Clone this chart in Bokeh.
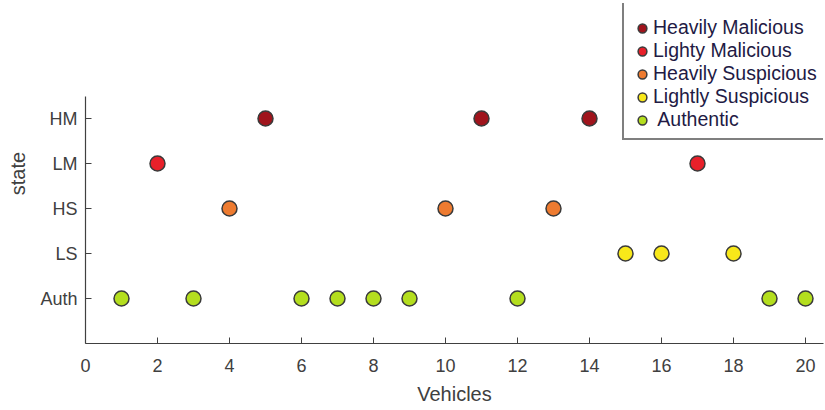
from bokeh.plotting import figure
from bokeh.models import Range1d, FixedTicker, Legend, LegendItem
from bokeh.embed import file_html
from bokeh.resources import INLINE

# Data
state_names = ["Heavily Malicious", "Lighty Malicious", "Heavily Suspicious", "Lightly Suspicious", " Authentic"]
state_levels = [5, 4, 3, 2, 1]
tick_labels = {5: "HM", 4: "LM", 3: "HS", 2: "LS", 1: "Auth"}
hm_vehicles = [5, 11, 14]
lm_vehicles = [2, 17]
hs_vehicles = [4, 10, 13]
ls_vehicles = [15, 16, 18]
auth_vehicles = [1, 3, 6, 7, 8, 9, 12, 19, 20]
colors = ["#A0141C", "#E8202A", "#EE7B30", "#F8E81A", "#B4DE1E"]

groups = [hm_vehicles, lm_vehicles, hs_vehicles, ls_vehicles, auth_vehicles]

p = figure(width=825, height=410, output_backend="svg", toolbar_location=None,
           x_range=Range1d(0, 20.5), y_range=Range1d(0, 7.556),
           min_border_left=85, min_border_right=2, min_border_top=3, min_border_bottom=67)
p.outline_line_color = None
p.xgrid.visible = False
p.ygrid.visible = False

items = []
for name, lvl, xs, c in zip(state_names, state_levels, groups, colors):
    r = p.scatter(x=xs, y=[lvl] * len(xs), size=15, fill_color=c,
                  line_color="#3a3a3a", line_width=1.5)
    items.append(LegendItem(label=name, renderers=[r]))

axis_color = "#404040"
tick_font = "Liberation Sans"

xa = p.xaxis[0]
xa.ticker = FixedTicker(ticks=list(range(0, 21, 2)))
xa.axis_label = "Vehicles"
xa.axis_label_text_font = tick_font
xa.axis_label_text_font_size = "20px"
xa.axis_label_text_font_style = "normal"
xa.axis_label_text_color = axis_color
xa.axis_label_standoff = 8
xa.major_label_text_font = tick_font
xa.major_label_text_font_size = "18px"
xa.major_label_text_color = axis_color
xa.major_label_standoff = 15
xa.major_tick_in = 6
xa.major_tick_out = 0
xa.minor_tick_in = 0
xa.minor_tick_out = 0
xa.axis_line_color = axis_color
xa.major_tick_line_color = axis_color
xa.axis_line_width = 1.2

ya = p.yaxis[0]
ya.ticker = FixedTicker(ticks=[1, 2, 3, 4, 5])
ya.major_label_overrides = tick_labels
ya.bounds = (0, 5.5)
ya.axis_label = "state"
ya.axis_label_text_font = tick_font
ya.axis_label_text_font_size = "20px"
ya.axis_label_text_font_style = "normal"
ya.axis_label_text_color = axis_color
ya.axis_label_standoff = 8
ya.major_label_text_font = tick_font
ya.major_label_text_font_size = "18px"
ya.major_label_text_color = axis_color
ya.major_label_standoff = 8
ya.major_tick_in = 6
ya.major_tick_out = 0
ya.minor_tick_in = 0
ya.minor_tick_out = 0
ya.axis_line_color = axis_color
ya.major_tick_line_color = axis_color
ya.axis_line_width = 1.2

legend = Legend(items=items, location=(537, 203), orientation="vertical",
                border_line_color="black", border_line_width=2,
                background_fill_color="white", background_fill_alpha=1,
                title=" ", title_text_font_size="8px", title_standoff=0,
                label_text_font="Liberation Sans", label_text_font_size="19.5px",
                label_text_color="#221a44",
                glyph_width=22, glyph_height=22, label_height=22,
                label_standoff=0, spacing=0, padding=7, margin=0)
p.add_layout(legend, "center")

open("out.html", "w").write(file_html(p, INLINE))
